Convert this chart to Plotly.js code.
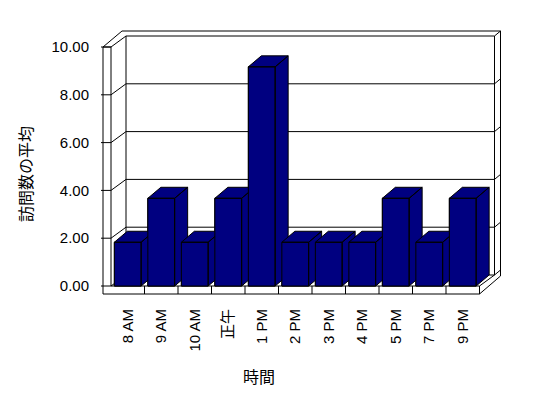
<!DOCTYPE html>
<html><head><meta charset="utf-8">
<script src="https://cdn.plot.ly/plotly-3.0.1.min.js"></script>
<style>html,body{margin:0;padding:0;background:#fff}#chart{width:548px;height:398px}</style>
</head><body><div id="chart"></div>
<script>
// ---- data ----
const categories = ['8 AM','9 AM','10 AM','正午','1 PM','2 PM','3 PM','4 PM','5 PM','7 PM','9 PM'];
const avgVisits = [1.83, 3.67, 1.83, 3.67, 9.17, 1.83, 1.83, 1.83, 3.67, 1.83, 3.67];
const yTickVals = [0, 2, 4, 6, 8, 10];
const yTickText = ['0.00', '2.00', '4.00', '6.00', '8.00', '10.00'];
const xTitle = '時間';
const yTitle = '訪問数の平均';

// ---- geometry (pixel-based 3D look) ----
const M = {l: 100, r: 43, t: 30, b: 102};
const PW = 548 - M.l - M.r, PH = 398 - M.t - M.b;
const XS = 33.5, YS = 23.9;            // px per category / px per unit
const px = p => p / XS, py = p => p / YS;
const xr0 = -0.5 - px(11), yr0 = -py(10);
const xRange = [xr0, xr0 + px(PW)];
const yRange = [yr0, yr0 + py(PH)];
const NAVY = '#000080';
const FONT = 'Liberation Sans, Arial, Noto Sans CJK JP, sans-serif';

const WD = {x: px(15), y: py(11)};     // wall depth offset
const BD = {x: px(13), y: py(11)};     // bar depth offset
const TK = {x: px(6), y: py(5)};       // back wall thickness
const BW = 0.8;
const n = categories.length;
const yMax = yTickVals[yTickVals.length - 1];
const FL = -0.5, FR = n - 0.5, WO = px(8), FB = -py(8);
const BL = FL + WD.x, BR = FR + WD.x, B0 = WD.y, BT = yMax + WD.y;

const shapes = [];
const ln = (x0, y0, x1, y1) => shapes.push({type: 'line', xref: 'x', yref: 'y', x0, y0, x1, y1,
  layer: 'below', line: {color: '#000', width: 1}});

// back wall
shapes.push({type: 'rect', xref: 'x', yref: 'y', x0: BL, y0: B0, x1: BR, y1: BT, layer: 'below',
  fillcolor: '#fff', line: {color: '#000', width: 1}});
yTickVals.forEach(v => {
  if (v > 0 && v < yMax) ln(BL, v + B0, BR, v + B0);
  if (v < yMax) ln(BR, v + B0, BR + TK.x, v + B0 + TK.y);
  ln(FL, v, BL, v + WD.y);                 // left wall inner face
  ln(FL - WO - px(2), v, FL, v);           // tick marks
});
// back wall thickness / outer frame
const topOut = BT + TK.y;
ln(FL - WO, yMax, FL - WO + px(19), topOut);
ln(FL - WO + px(19), topOut, BR + TK.x, topOut);
ln(BR, BT, BR + TK.x, topOut);
ln(BR + TK.x, topOut, BR + TK.x, py(10));
// left wall
ln(FL, 0, FL, yMax);
ln(FL - WO, FB, FL - WO, yMax);
ln(FL - WO, yMax, FL, yMax);
// floor
ln(FL - WO, FB, FR, FB);
ln(FL, 0, FR, 0);
ln(FR, FB, FR, 0);
for (let k = 1; k < n; k++) ln(FL + k, FB, FL + k, 0);
ln(FR, 0, BR, B0);
ln(FR, FB, BR + TK.x, py(10));

// ---- traces ----
const xs = categories.map((c, i) => i);
const traces = [{
  type: 'bar', x: xs, y: avgVisits, width: BW, text: categories, hoverinfo: 'text+y', textposition: 'none',
  marker: {color: NAVY, line: {color: '#000', width: 1}}, showlegend: false
}];
avgVisits.forEach((h, i) => {
  const L = i - BW / 2, R = i + BW / 2;
  const front = [[L, 0], [R, 0], [R, h], [L, h], [L, 0]];
  const top = [[L, h], [R, h], [R + BD.x, h + BD.y], [L + BD.x, h + BD.y], [L, h]];
  const side = [[R, 0], [R + BD.x, BD.y], [R + BD.x, h + BD.y], [R, h], [R, 0]];
  const X = [], Y = [];
  [front, top, side].forEach((poly, k) => {
    if (k) { X.push(null); Y.push(null); }
    poly.forEach(p => { X.push(p[0]); Y.push(p[1]); });
  });
  traces.push({type: 'scatter', mode: 'lines', x: X, y: Y, fill: 'toself', fillcolor: NAVY,
    line: {color: '#000', width: 1}, hoverinfo: 'skip', showlegend: false, cliponaxis: false});
});

const layout = {
  width: 548, height: 398, margin: M, showlegend: false,
  paper_bgcolor: '#fff', plot_bgcolor: 'rgba(0,0,0,0)',
  font: {family: FONT, size: 15, color: '#000'},
  xaxis: {range: xRange, showgrid: false, zeroline: false, showline: false,
    ticks: 'outside', ticklen: 6, tickcolor: 'rgba(0,0,0,0)',
    tickmode: 'array', tickvals: xs, ticktext: categories, tickangle: -90,
    tickfont: {family: FONT, size: 15, color: '#000'}, fixedrange: true},
  yaxis: {range: yRange, showgrid: false, zeroline: false, showline: false,
    ticks: 'outside', ticklen: 7, tickcolor: 'rgba(0,0,0,0)',
    tickmode: 'array', tickvals: yTickVals, ticktext: yTickText,
    tickfont: {family: FONT, size: 15, color: '#000'}, fixedrange: true},
  shapes: shapes,
  annotations: [
    {text: xTitle, xref: 'paper', yref: 'paper', x: (259 - M.l) / PW, y: (PH + M.t - 377) / PH,
     xanchor: 'center', yanchor: 'middle', showarrow: false, font: {family: FONT, size: 16, color: '#000'}},
    {text: yTitle, xref: 'paper', yref: 'paper', x: (26 - M.l) / PW, y: (PH + M.t - 174) / PH,
     xanchor: 'center', yanchor: 'middle', textangle: -90, showarrow: false, font: {family: FONT, size: 16, color: '#000'}}
  ]
};
Plotly.newPlot('chart', traces, layout, {displayModeBar: false, staticPlot: true});
</script></body></html>
